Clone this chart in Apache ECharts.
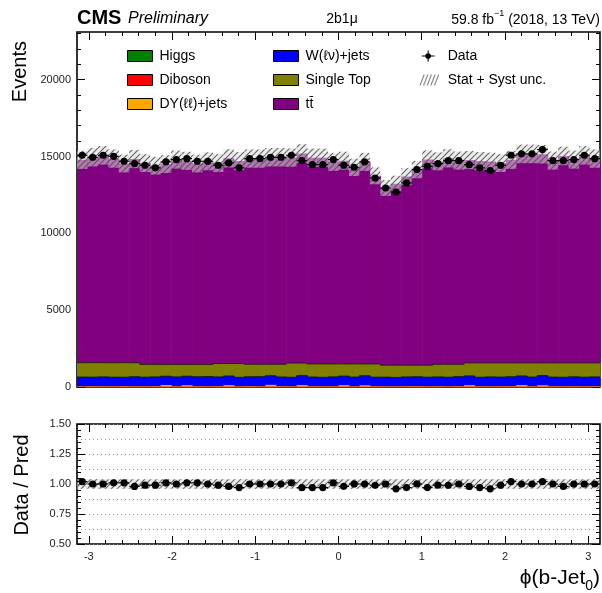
<!DOCTYPE html>
<html>
<head>
<meta charset="utf-8">
<script src="https://cdn.jsdelivr.net/npm/echarts@6/dist/echarts.min.js"></script>
<style>
  html, body { margin: 0; padding: 0; background: #fff; }
  #chart { width: 602px; height: 593px; }
</style>
</head>
<body>
<div id="chart"></div>
<script>
// phi(b-Jet0) histogram: 50 uniform bins over [-pi, pi]
const nBins = 50;
const phiMin = -Math.PI;
const phiMax = Math.PI;

// Observed events per bin
const dataEvents = [15080,14950,15080,15010,14690,14540,14430,14260,14650,14800,14860,14690,14690,14430,14580,14260,14860,14860,14950,14950,15080,14730,14470,14470,14800,14430,14300,14650,13600,12950,12690,13280,14150,14360,14540,14730,14730,14470,14260,14080,14430,15080,15170,15170,15450,14730,14730,14800,15080,14860];

// Simulated backgrounds per bin (stacked bottom to top)
const higgs = [4,5,4,4,5,4,3,4,5,4,4,5,4,4,3,5,4,4,5,4,4,4,5,3,4,4,5,4,4,3,4,5,4,4,4,5,4,3,4,5,4,4,5,4,4,4,3,5,4,4];
const diboson = [14,15,13,16,14,12,15,14,13,15,16,14,13,15,14,12,14,16,15,13,14,15,13,14,16,14,13,15,14,12,13,14,15,16,14,13,15,14,13,15,16,14,13,15,14,12,14,15,13,14];
const dyJets = [28,35,31,26,40,33,29,37,112,30,98,34,27,36,105,31,38,29,120,33,27,108,35,30,32,102,29,95,36,31,28,34,37,30,33,26,35,104,32,29,31,36,110,28,97,34,30,33,29,35];
const wJets = [605,590,612,598,583,620,596,604,575,610,588,615,640,602,597,583,611,626,594,606,589,617,600,585,609,592,603,621,587,598,579,604,613,590,608,596,622,601,587,610,598,617,593,605,631,600,588,612,597,606];
const singleTop = [929,935,920,936,938,911,827,811,765,811,764,802,786,873,811,899,813,805,746,824,926,816,847,868,839,788,850,765,859,776,796,763,751,780,821,840,804,848,934,911,921,899,849,918,824,920,935,905,927,911];
const ttbar = [13202,13370,13498,13284,12963,13254,13103,12931,13033,13328,13246,13073,13218,13043,13350,13168,13383,13383,13470,13470,13369,13629,13420,13420,13152,13221,12797,13148,12241,11532,11800,12270,12726,13386,13204,13402,13253,13197,13128,13098,13003,13212,13600,13600,13577,13163,13464,13228,13508,13293];

// Total (stat + syst) uncertainty on the prediction, per bin
const mcUnc = [590,600,605,595,580,595,585,575,580,590,590,580,585,585,595,590,595,595,600,600,595,610,595,595,585,590,570,585,550,520,530,550,565,590,585,595,590,590,590,585,585,590,605,605,605,590,600,590,605,595];

// Axis tick labels
const xTickLabels = [-3, -2, -1, 0, 1, 2, 3];
const yTickLabels = [0, 5000, 10000, 15000, 20000];
const ratioTickLabels = [0.5, 0.75, 1.0, 1.25, 1.5];

const processes = [
  { name: 'Higgs', values: higgs, color: '#008000' },
  { name: 'Diboson', values: diboson, color: '#ff0000' },
  { name: 'DY(ℓℓ)+jets', values: dyJets, color: '#ffa500' },
  { name: 'W(ℓν)+jets', values: wJets, color: '#0000ff' },
  { name: 'Single Top', values: singleTop, color: '#808000' },
  { name: 'tt̄', values: ttbar, color: '#800080' }
];

const FONT = 'Liberation Sans, Arial, Helvetica, sans-serif';
const binW = (phiMax - phiMin) / nBins;
const edgeLo = i => phiMin + i * binW;
const edgeHi = i => phiMin + (i + 1) * binW;

// cumulative stack heights
const cumulative = [];
let running = new Array(nBins).fill(0);
processes.forEach(p => {
  running = running.map((v, i) => v + p.values[i]);
  cumulative.push(running.slice());
});
const totalMC = running;

// hatched fill for the uncertainty band
function hatchPattern() {
  const s = 6;
  const c = document.createElement('canvas');
  c.width = s; c.height = s;
  const g = c.getContext('2d');
  g.fillStyle = 'rgba(220,220,220,0.55)';
  g.fillRect(0, 0, s, s);
  g.strokeStyle = 'rgba(85,85,85,0.9)';
  g.lineWidth = 1.1;
  g.beginPath();
  g.moveTo(0, s); g.lineTo(s, 0);
  g.moveTo(-1, 1); g.lineTo(1, -1);
  g.moveTo(s - 1, s + 1); g.lineTo(s + 1, s - 1);
  g.stroke();
  return c;
}
const hatch = { image: hatchPattern(), repeat: 'repeat' };

// stacked histogram: each layer drawn from zero to its cumulative height
function stackRenderer(outline) {
  return function (params, api) {
    const lo = api.value(0), hi = api.value(1), top = api.value(2), prevTop = api.value(3);
    const a = api.coord([lo, top]);
    const b = api.coord([hi, 0]);
    const children = [{
      type: 'rect',
      shape: { x: a[0], y: a[1], width: b[0] - a[0] + 0.6, height: b[1] - a[1] },
      style: { fill: api.visual('color') }
    }];
    if (outline) {
      const p = api.coord([lo, prevTop]);
      children.push({
        type: 'polyline',
        shape: { points: [[a[0], p[1]], [a[0], a[1]], [b[0], a[1]]] },
        style: { stroke: 'rgba(20,20,20,0.8)', lineWidth: 1, fill: null }
      });
    }
    return { type: 'group', children };
  };
}

function bandRenderer(params, api) {
  const a = api.coord([api.value(0), api.value(3)]);
  const b = api.coord([api.value(1), api.value(2)]);
  return {
    type: 'rect',
    shape: { x: a[0], y: a[1], width: b[0] - a[0], height: b[1] - a[1] },
    style: { fill: hatch }
  };
}

function pointRenderer(r) {
  return function (params, api) {
    const c = api.value(0), v = api.value(1), e = api.value(2);
    const pc = api.coord([c, v]);
    const pl = api.coord([api.value(3), v]);
    const ph = api.coord([api.value(4), v]);
    const pu = api.coord([c, v + e]);
    const pd = api.coord([c, v - e]);
    return {
      type: 'group',
      children: [
        { type: 'line', shape: { x1: pl[0], y1: pl[1], x2: ph[0], y2: ph[1] }, style: { stroke: '#000', lineWidth: 1.2 } },
        { type: 'line', shape: { x1: pu[0], y1: pu[1], x2: pd[0], y2: pd[1] }, style: { stroke: '#000', lineWidth: 1.2 } },
        { type: 'circle', shape: { cx: pc[0], cy: pc[1], r: r }, style: { fill: '#000' } }
      ]
    };
  };
}

// series built from the arrays above
const stackSeries = processes.map((p, k) => ({
  type: 'custom',
  name: p.name,
  xAxisIndex: 0, yAxisIndex: 0,
  itemStyle: { color: p.color },
  renderItem: stackRenderer(p.name === 'W(ℓν)+jets' || p.name === 'Single Top'),
  encode: { x: [0, 1], y: [2] },
  data: cumulative[k].map((v, i) => [edgeLo(i), edgeHi(i), v, i > 0 ? cumulative[k][i - 1] : v]),
  z: 10 - k
})).reverse();

const bandTop = {
  type: 'custom', name: 'Stat + Syst unc.',
  xAxisIndex: 0, yAxisIndex: 0,
  itemStyle: { color: '#999' },
  renderItem: bandRenderer,
  encode: { x: [0, 1], y: [2, 3] },
  data: totalMC.map((t, i) => [edgeLo(i), edgeHi(i), t - mcUnc[i], t + mcUnc[i]]),
  z: 20
};

const dataTop = {
  type: 'custom', name: 'Data',
  xAxisIndex: 0, yAxisIndex: 0,
  itemStyle: { color: '#000' },
  renderItem: pointRenderer(3.6),
  encode: { x: [0, 3, 4], y: [1] },
  data: dataEvents.map((d, i) => [(edgeLo(i) + edgeHi(i)) / 2, d, Math.sqrt(d), edgeLo(i), edgeHi(i)]),
  z: 30
};

const bandRatio = {
  type: 'custom', name: 'ratio unc',
  xAxisIndex: 4, yAxisIndex: 4,
  renderItem: bandRenderer,
  encode: { x: [0, 1], y: [2, 3] },
  data: totalMC.map((t, i) => [edgeLo(i), edgeHi(i), (t - mcUnc[i]) / t, (t + mcUnc[i]) / t]),
  z: 20
};

const dataRatio = {
  type: 'custom', name: 'ratio',
  xAxisIndex: 4, yAxisIndex: 4,
  renderItem: pointRenderer(3.6),
  encode: { x: [0, 3, 4], y: [1] },
  data: dataEvents.map((d, i) => [(edgeLo(i) + edgeHi(i)) / 2, d / totalMC[i], Math.sqrt(d) / totalMC[i], edgeLo(i), edgeHi(i)]),
  z: 30
};

// tick positions
const xMinor = [];
for (let k = -15; k <= 15; k++) if (k % 5 !== 0) xMinor.push(k * 0.2);
const yMinor = [];
for (let k = 1; k <= 23; k++) if (k % 5 !== 0) yMinor.push(k * 1000);
const rMinor = [];
for (let k = 11; k <= 29; k++) if (k % 5 !== 0) rMinor.push(k * 0.05);

const tickLabelStyle = { fontFamily: FONT, fontSize: 11, color: '#222' };

function xAxisDef(grid, pos, values, len, withLabels) {
  return {
    type: 'value', gridIndex: grid, position: pos, min: phiMin, max: phiMax,
    axisLine: { show: false, onZero: false },
    splitLine: { show: false },
    axisTick: { show: true, inside: true, length: len, customValues: values, lineStyle: { color: '#000', width: 1 } },
    axisLabel: withLabels
      ? Object.assign({ show: true, customValues: values, margin: 7, formatter: v => String(Math.round(v)) }, tickLabelStyle)
      : { show: false }
  };
}

function yAxisDef(grid, pos, min, max, values, len, labelFmt) {
  return {
    type: 'value', gridIndex: grid, position: pos, min: min, max: max,
    axisLine: { show: false, onZero: false },
    splitLine: { show: false },
    axisTick: { show: true, inside: true, length: len, customValues: values, lineStyle: { color: '#000', width: 1 } },
    axisLabel: labelFmt
      ? Object.assign({ show: true, customValues: values, margin: 6, formatter: labelFmt }, tickLabelStyle)
      : { show: false }
  };
}

const yMax = 23100;
const xMajor = xTickLabels;

const legendText = { fontFamily: FONT, fontSize: 14, color: '#000', padding: [0, 0, 0, 2] };
const dataIcon = 'path://M0,0H0.01V0.01H0Z M27.99,13.99H28V14H27.99Z M6,6.3H22V7.7H6Z M13.3,0H14.7V14H13.3Z M17.6,7A3.6,3.6,0,1,1,10.4,7A3.6,3.6,0,1,1,17.6,7Z';
let hatchPath = 'path://M0,0H0.01V0.01H0Z M27.99,13.99H28V14H27.99Z';
for (let k = 0; k < 5; k++) {
  const x0 = 3 + 4.6 * k;
  hatchPath += ` M${x0},14 L${x0 + 1.6},14 L${x0 + 7},0 L${x0 + 5.4},0 Z`;
}

function legendDef(left, names, extra) {
  return Object.assign({
    left: left, top: 44, orient: 'vertical',
    itemWidth: 25, itemHeight: 11, itemGap: 10,
    selectedMode: false,
    icon: 'rect',
    itemStyle: { borderColor: '#000', borderWidth: 1 },
    textStyle: legendText,
    data: names
  }, extra || {});
}

const option = {
  animation: false,
  backgroundColor: '#fff',
  grid: [
    { left: 77, right: 2, top: 32, height: 355, show: true, borderColor: '#000', borderWidth: 1.6, backgroundColor: 'transparent' },
    { left: 77, right: 2, top: 424, height: 120, show: true, borderColor: '#000', borderWidth: 1.6, backgroundColor: 'transparent' }
  ],
  xAxis: [
    xAxisDef(0, 'bottom', xMajor, 8, false),
    xAxisDef(0, 'bottom', xMinor, 4, false),
    xAxisDef(0, 'top', xMajor, 8, false),
    xAxisDef(0, 'top', xMinor, 4, false),
    xAxisDef(1, 'bottom', xMajor, 8, true),
    xAxisDef(1, 'bottom', xMinor, 4, false),
    xAxisDef(1, 'top', xMajor, 8, false),
    xAxisDef(1, 'top', xMinor, 4, false)
  ],
  yAxis: [
    yAxisDef(0, 'left', 0, yMax, yTickLabels, 8, v => String(v)),
    yAxisDef(0, 'left', 0, yMax, yMinor, 4, null),
    yAxisDef(0, 'right', 0, yMax, yTickLabels, 8, null),
    yAxisDef(0, 'right', 0, yMax, yMinor, 4, null),
    yAxisDef(1, 'left', 0.5, 1.5, ratioTickLabels, 8, v => v.toFixed(2)),
    yAxisDef(1, 'left', 0.5, 1.5, rMinor, 4, null),
    yAxisDef(1, 'right', 0.5, 1.5, ratioTickLabels, 8, null),
    yAxisDef(1, 'right', 0.5, 1.5, rMinor, 4, null),
    {
      type: 'value', gridIndex: 1, min: 0.5, max: 1.5, interval: 0.125,
      axisLine: { show: false, onZero: false }, axisTick: { show: false }, axisLabel: { show: false },
      splitLine: { show: true, lineStyle: { color: '#9a9a9a', width: 1, type: [1, 3] } }
    }
  ],
  legend: [
    legendDef(122, ['Higgs', 'Diboson', 'DY(ℓℓ)+jets']),
    legendDef(268, ['W(ℓν)+jets', 'Single Top', 'tt̄']),
    legendDef(412, [
      { name: 'Data', icon: dataIcon, itemStyle: { color: '#000', borderWidth: 0 } },
      { name: 'Stat + Syst unc.', icon: hatchPath, itemStyle: { color: '#8a8a8a', borderWidth: 0 } }
    ])
  ],
  graphic: [
    { type: 'text', left: 77, top: 8, style: { text: 'CMS', font: `bold 20px ${FONT}`, fill: '#000' } },
    { type: 'text', left: 128, top: 11, style: { text: 'Preliminary', font: `italic 16px ${FONT}`, fill: '#000' } },
    { type: 'text', x: 342, y: 19, style: { text: '2b1μ', font: `14px ${FONT}`, fill: '#000', align: 'center', verticalAlign: 'middle' } },
    {
      type: 'text', x: 600, y: 27,
      style: {
        text: '{n|59.8 fb}{s|−1}{n| (2018, 13 TeV)}',
        align: 'right', verticalAlign: 'bottom', fill: '#000',
        rich: {
          n: { fontFamily: FONT, fontSize: 14, lineHeight: 18, verticalAlign: 'bottom' },
          s: { fontFamily: FONT, fontSize: 9, lineHeight: 10, verticalAlign: 'top' }
        }
      }
    },
    { type: 'text', x: 20, y: 41, rotation: Math.PI / 2, style: { text: 'Events', font: `20px ${FONT}`, fill: '#000', align: 'right', verticalAlign: 'middle' } },
    { type: 'text', x: 22, y: 485, rotation: Math.PI / 2, style: { text: 'Data / Pred', font: `20px ${FONT}`, fill: '#000', align: 'center', verticalAlign: 'middle' } },
    {
      type: 'text', x: 600, y: 593,
      style: {
        text: '{a|ϕ(b-Jet}{b|0}{a|)}',
        align: 'right', verticalAlign: 'bottom', fill: '#000',
        rich: {
          a: { fontFamily: FONT, fontSize: 21, lineHeight: 25, verticalAlign: 'top' },
          b: { fontFamily: FONT, fontSize: 14, lineHeight: 18, verticalAlign: 'bottom' }
        }
      }
    }
  ],
  series: [...stackSeries, bandTop, dataTop, bandRatio, dataRatio]
};

const chart = echarts.init(document.getElementById('chart'), null, { renderer: 'canvas' });
chart.setOption(option);
</script>
</body>
</html>
